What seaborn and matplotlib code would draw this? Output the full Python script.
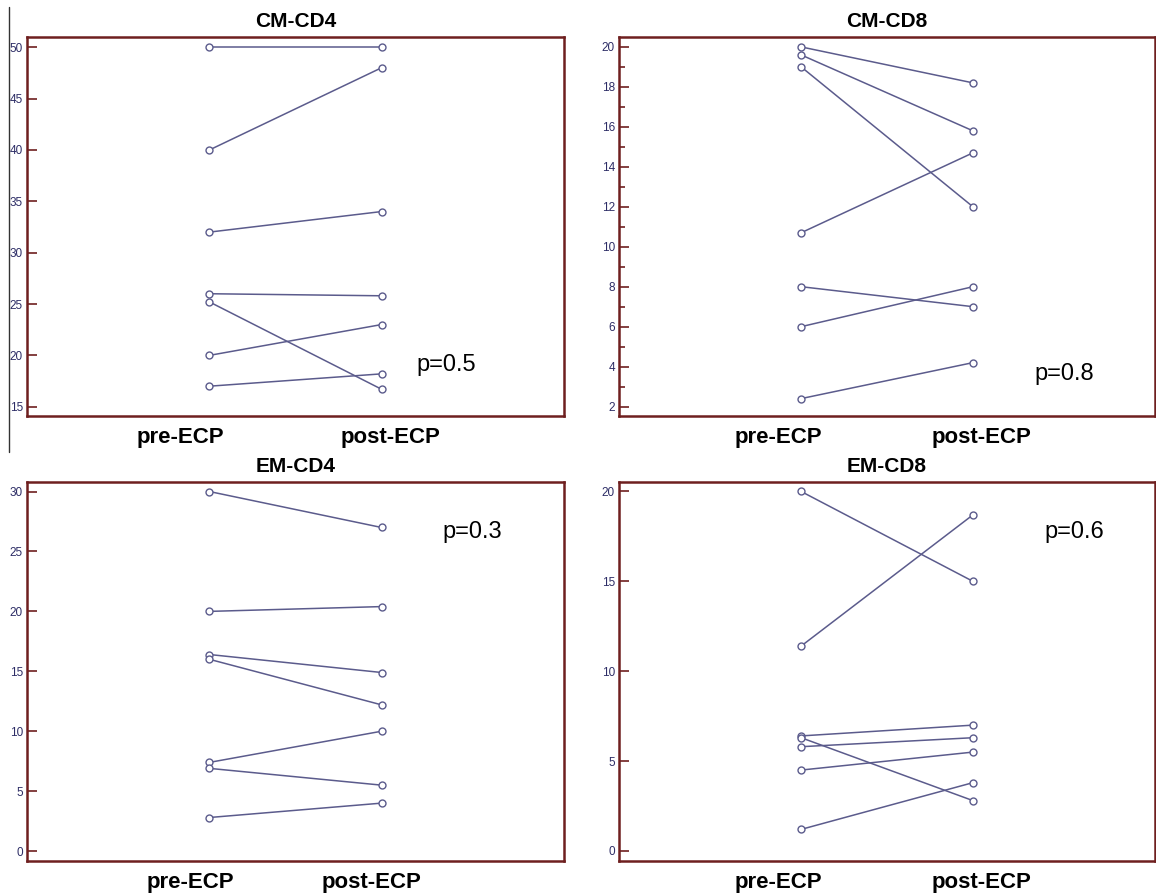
import matplotlib.pyplot as plt
import pandas as pd
import seaborn as sns
from matplotlib.lines import Line2D

# values, one pair (pre, post) per patient
cm_cd4_pre = [50, 40, 32, 26, 25.2, 20, 17]
cm_cd4_post = [50, 48, 34, 25.8, 16.7, 23, 18.2]
cm_cd8_pre = [20, 19.6, 19, 10.7, 8, 6, 2.4]
cm_cd8_post = [18.2, 15.8, 12, 14.7, 7, 8, 4.2]
em_cd4_pre = [30, 20, 16.4, 16.0, 7.4, 6.9, 2.8]
em_cd4_post = [27, 20.4, 14.9, 12.2, 10, 5.5, 4.0]
em_cd8_pre = [20, 11.4, 6.4, 6.3, 5.8, 4.5, 1.2]
em_cd8_post = [15, 18.7, 7.0, 2.8, 6.3, 5.5, 3.8]

titles = ['CM-CD4', 'CM-CD8', 'EM-CD4', 'EM-CD8']
p_values = ['p=0.5', 'p=0.8', 'p=0.3', 'p=0.6']
timepoints = ['pre-ECP', 'post-ECP']

LINE = '#5b5b8c'
FRAME = '#6e1f1f'
TICKTXT = '#2d2d66'


def long_frame(pre, post):
    rows = []
    for i, (a, b) in enumerate(zip(pre, post)):
        rows.append({'subject': i, 'pos': 0, 'value': a})
        rows.append({'subject': i, 'pos': 1, 'value': b})
    return pd.DataFrame(rows)


def main():
    sns.set_style('white')
    plt.rcParams['font.family'] = ['Liberation Sans', 'DejaVu Sans']

    fig = plt.figure(figsize=(11.56, 8.94), dpi=100)

    panels = [
        dict(pre=cm_cd4_pre, post=cm_cd4_post, rect=[0.0234, 0.5347, 0.4645, 0.424],
             ylim=(14.1, 51.0), ticks=range(15, 51, 5), minor=None,
             lab=(0.285, 0.676), p=(0.78, 0.135)),
        dict(pre=cm_cd8_pre, post=cm_cd8_post, rect=[0.5355, 0.5347, 0.4637, 0.424],
             ylim=(1.53, 20.5), ticks=range(2, 21, 2), minor=range(3, 20, 2),
             lab=(0.297, 0.677), p=(0.83, 0.111)),
        dict(pre=em_cd4_pre, post=em_cd4_post, rect=[0.0234, 0.0369, 0.4645, 0.424],
             ylim=(-0.83, 30.8), ticks=range(0, 31, 5), minor=None,
             lab=(0.304, 0.642), p=(0.83, 0.868)),
        dict(pre=em_cd8_pre, post=em_cd8_post, rect=[0.5355, 0.0369, 0.4637, 0.424],
             ylim=(-0.56, 20.53), ticks=range(0, 21, 5), minor=None,
             lab=(0.297, 0.677), p=(0.85, 0.868)),
    ]

    for k, pan in enumerate(panels):
        ax = fig.add_axes(pan['rect'])
        df = long_frame(pan['pre'], pan['post'])
        sns.lineplot(data=df, x='pos', y='value', units='subject', estimator=None,
                     color=LINE, lw=1.1, marker='o', markersize=5,
                     markerfacecolor='white', markeredgecolor=LINE,
                     markeredgewidth=1.0, legend=False, ax=ax)
        ax.set_xlim(-1.06, 2.06)
        ax.set_ylim(*pan['ylim'])
        ax.set_yticks(list(pan['ticks']))
        if pan['minor'] is not None:
            ax.set_yticks(list(pan['minor']), minor=True)
        ax.set_xticks([])
        ax.set_xlabel('')
        ax.set_ylabel('')
        for s in ax.spines.values():
            s.set_color(FRAME)
            s.set_linewidth(1.8)
        ax.tick_params(axis='y', which='major', direction='in', length=7, width=1.2,
                       color=FRAME, labelcolor=TICKTXT, labelsize=8.5, pad=3, left=True)
        ax.tick_params(axis='y', which='minor', direction='in', length=4, width=1.2,
                       color=FRAME, left=True)

        ax.text(0.5, 1.04, titles[k], transform=ax.transAxes, ha='center', va='center',
                fontsize=15, fontweight='bold', color='black')
        for lx, name in zip(pan['lab'], timepoints):
            ax.text(lx, -0.056, name, transform=ax.transAxes, ha='center', va='center',
                    fontsize=16, fontweight='bold', color='black')
        ax.text(pan['p'][0], pan['p'][1], p_values[k], transform=ax.transAxes,
                ha='center', va='center', fontsize=17, color='black')

    # stray vertical rule at the left edge of the scanned figure
    fig.add_artist(Line2D([9 / 1156, 9 / 1156], [1 - 7 / 894, 1 - 452 / 894],
                          color='#333333', lw=1))

    fig.savefig('out.png', dpi=100)


if __name__ == '__main__':
    main()
